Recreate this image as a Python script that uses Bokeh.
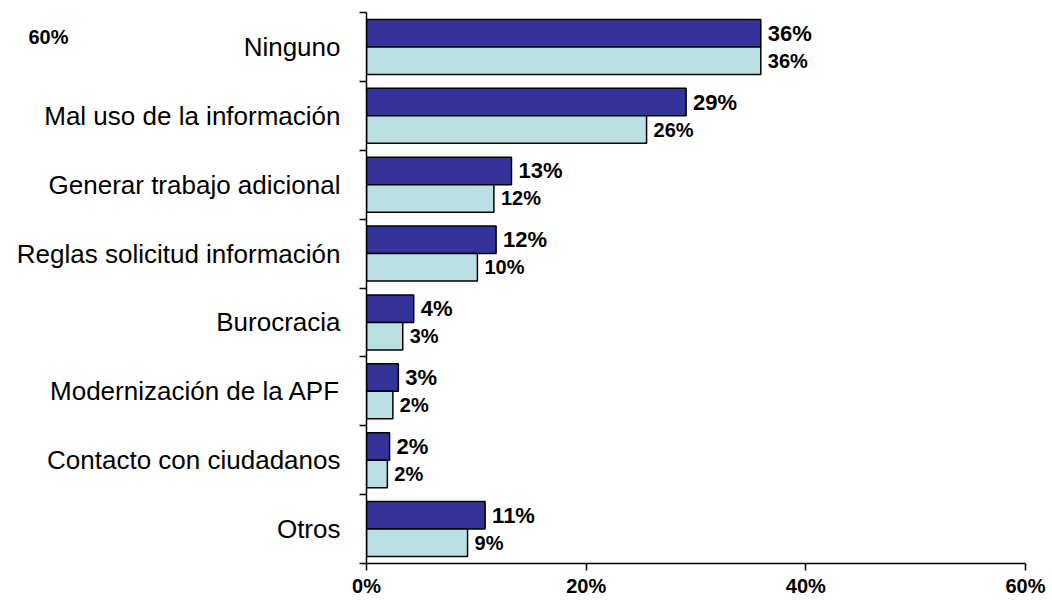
from bokeh.plotting import figure
from bokeh.models import (Range1d, FixedTicker, ColumnDataSource, LabelSet,
                          PrintfTickFormatter, LinearAxis)
from bokeh.core.properties import value
from bokeh.embed import file_html
from bokeh.resources import INLINE

categories = ["Ninguno", "Mal uso de la información", "Generar trabajo adicional",
              "Reglas solicitud información", "Burocracia", "Modernización de la APF",
              "Contacto con ciudadanos", "Otros"]
series_a = [35.9, 29.1, 13.2, 11.8, 4.3, 2.9, 2.1, 10.8]
series_b = [35.9, 25.5, 11.6, 10.1, 3.3, 2.4, 1.9, 9.2]
x_ticks = [0, 20, 40, 60]
x_max = 60
corner_text = "60%"   # stray fragment visible in the reference's top-left corner

FONT = "Liberation Sans"
DARK = "#333399"
LIGHT = "#BBE0E3"

n = len(categories)
centers = [n - i - 0.5 for i in range(n)]
boundaries = [float(b) for b in range(n + 1)]
off = 0.2
bar_h = 0.4

src = ColumnDataSource(dict(
    cat=categories,
    a=series_a,
    b=series_b,
    ya=[c + off for c in centers],
    yb=[c - off for c in centers],
    la=[f"{int(v + 0.5)}%" for v in series_a],
    lb=[f"{int(v + 0.5)}%" for v in series_b],
))

p = figure(width=1052, height=603, output_backend="svg", toolbar_location=None,
           x_range=Range1d(0, x_max), y_range=Range1d(0, n),
           min_border_left=366, min_border_top=12, min_border_right=27,
           min_border_bottom=40)
p.outline_line_color = None
p.xgrid.visible = False
p.ygrid.visible = False
p.background_fill_color = "white"
p.border_fill_color = "white"

p.hbar(y="ya", left=0, right="a", height=bar_h, source=src,
       fill_color=DARK, line_color="black", line_width=1.5)
p.hbar(y="yb", left=0, right="b", height=bar_h, source=src,
       fill_color=LIGHT, line_color="black", line_width=1.5)

p.add_layout(LabelSet(x="a", y="ya", text="la", source=src, x_offset=7,
                      text_baseline="middle", text_align="left",
                      text_font=value(FONT), text_font_style="bold",
                      text_font_size="22px", text_color="black"))
p.add_layout(LabelSet(x="b", y="yb", text="lb", source=src, x_offset=7,
                      text_baseline="middle", text_align="left",
                      text_font=value(FONT), text_font_style="bold",
                      text_font_size="20px", text_color="black"))

# x axis
xa = p.xaxis[0]
xa.ticker = FixedTicker(ticks=x_ticks, minor_ticks=[])
xa.formatter = PrintfTickFormatter(format="%d%%")
xa.major_label_text_font = FONT
xa.major_label_text_font_style = "bold"
xa.major_label_text_font_size = "20px"
xa.major_label_text_color = "black"
xa.major_tick_out = 7
xa.major_tick_in = 0
xa.minor_tick_out = 0
xa.minor_tick_in = 0
xa.axis_line_color = "black"
xa.axis_line_width = 1.5
xa.major_tick_line_color = "black"
xa.major_tick_line_width = 1.5
xa.major_label_standoff = 4

# y axis
ya = p.yaxis[0]
ya.ticker = FixedTicker(ticks=centers, minor_ticks=boundaries)
ya.major_label_overrides = {c: lab for c, lab in zip(centers, categories)}
ya.major_label_text_font = FONT
ya.major_label_text_font_style = "normal"
ya.major_label_text_font_size = "26px"
ya.major_label_text_color = "black"
ya.major_tick_out = 0
ya.major_tick_in = 0
ya.major_tick_line_color = None
ya.minor_tick_out = 7
ya.minor_tick_in = 0
ya.minor_tick_line_color = "black"
ya.minor_tick_line_width = 1.5
ya.axis_line_color = "black"
ya.axis_line_width = 1.5
ya.major_label_standoff = 19

# extra left axis that only carries the stray corner text
corner_y = n - 0.36
ax2 = LinearAxis(ticker=FixedTicker(ticks=[corner_y], minor_ticks=[]),
                 major_label_overrides={corner_y: corner_text},
                 axis_line_color=None, major_tick_line_color=None,
                 minor_tick_line_color=None, major_tick_out=0, major_tick_in=0,
                 minor_tick_out=0, minor_tick_in=0,
                 major_label_standoff=-55,
                 major_label_text_font=FONT, major_label_text_font_style="bold",
                 major_label_text_font_size="20px",
                 major_label_text_color="black")
p.add_layout(ax2, "left")

open("out.html", "w").write(file_html(p, INLINE))
